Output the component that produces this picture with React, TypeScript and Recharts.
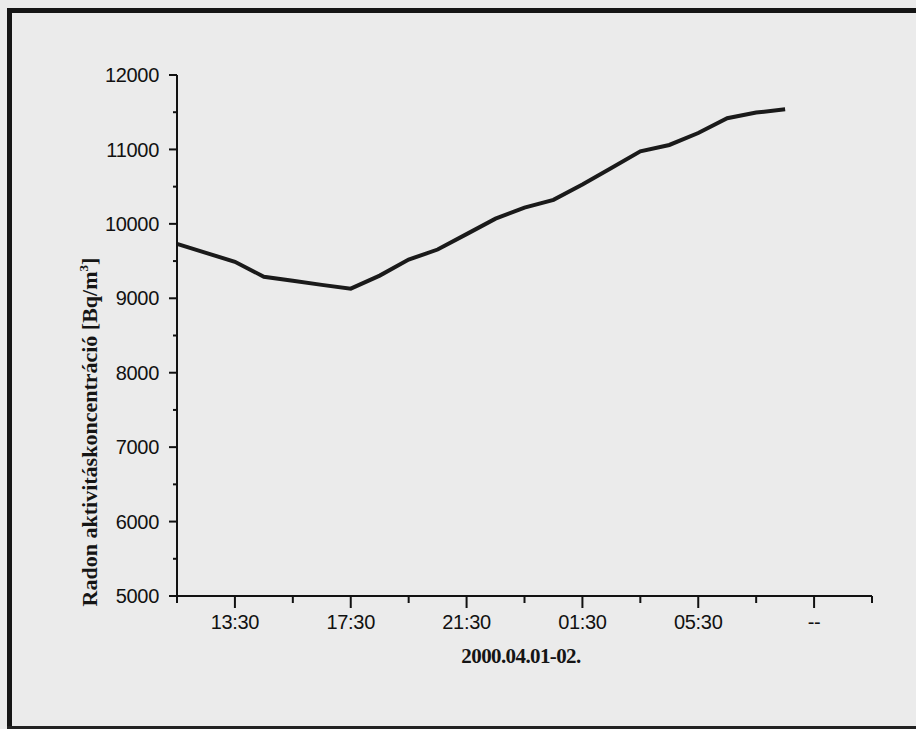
import React from "react";
import { LineChart, Line, XAxis, YAxis } from "recharts";

// hours after 11:30 on 2000.04.01
const hours = [0, 1, 2, 3, 4, 5, 6, 7, 8, 9, 10, 11, 12, 13, 14, 15, 16, 17, 18, 19, 20, 21];
const radon = [9730, 9610, 9490, 9290, 9235, 9180, 9130, 9305, 9520, 9655, 9862, 10070, 10218, 10323, 10530, 10750, 10975, 11060, 11220, 11420, 11495, 11540];

const xTicks = [0, 2, 4, 6, 8, 10, 12, 14, 16, 18, 20, 22, 24];
const xTickLabels: Record<number, string> = { 2: "13:30", 6: "17:30", 10: "21:30", 14: "01:30", 18: "05:30", 22: "--" };
const yTicks = [5000, 5500, 6000, 6500, 7000, 7500, 8000, 8500, 9000, 9500, 10000, 10500, 11000, 11500, 12000];

const data = hours.map((h, i) => ({ h, v: radon[i] }));

const W = 916;
const H = 729;
const PLOT_LEFT = 177;
const PLOT_RIGHT = 872;
const PLOT_TOP = 75;
const PLOT_BOTTOM = 596;
const Y_AXIS_W = 100;
const X_AXIS_H = 60;

const tickFont = "'Liberation Sans', Arial, sans-serif";
const titleFont = "'Liberation Serif', 'Times New Roman', serif";

const YTick = (props: any) => {
  const { y, payload } = props;
  const major = payload.value % 1000 === 0;
  return (
    <g>
      <line x1={PLOT_LEFT} x2={PLOT_LEFT - (major ? 8 : 4)} y1={y} y2={y} stroke="#111" strokeWidth={2} />
      {major && (
        <text x={PLOT_LEFT - 18} y={y} dy="0.36em" textAnchor="end" fontSize={20} fontFamily={tickFont} fill="#111" letterSpacing={-0.3}>
          {payload.value}
        </text>
      )}
    </g>
  );
};

const XTick = (props: any) => {
  const { x, payload } = props;
  const label = xTickLabels[payload.value];
  const major = label !== undefined;
  return (
    <g>
      <line x1={x} x2={x} y1={PLOT_BOTTOM} y2={PLOT_BOTTOM + (major ? 12 : 7)} stroke="#111" strokeWidth={2} />
      {major && (
        <text x={x} y={PLOT_BOTTOM + 33} textAnchor="middle" fontSize={20} fontFamily={tickFont} fill="#111" letterSpacing={-0.3}>
          {label}
        </text>
      )}
    </g>
  );
};

export default function App() {
  return (
    <div style={{ position: "absolute", left: 0, top: 0, width: W, height: H, background: "#ebebeb", overflow: "hidden" }}>
      <div style={{ position: "absolute", left: 7, top: 8, width: W - 7, height: 5, background: "#151515" }} />
      <div style={{ position: "absolute", left: 7, top: 8, width: 5, height: H - 8, background: "#151515" }} />
      <div style={{ position: "absolute", left: 7, top: H - 3, width: W - 7, height: 3, background: "#222" }} />
      <div style={{ position: "absolute", left: 0, top: 0 }}>
        <LineChart
          width={W}
          height={H}
          data={data}
          margin={{ left: PLOT_LEFT - Y_AXIS_W, right: W - PLOT_RIGHT, top: PLOT_TOP, bottom: H - PLOT_BOTTOM - X_AXIS_H }}
        >
          <XAxis
            dataKey="h"
            type="number"
            domain={[0, 24]}
            ticks={xTicks}
            interval={0}
            height={X_AXIS_H}
            axisLine={{ stroke: "#111", strokeWidth: 2 }}
            tickLine={false}
            tick={<XTick />}
          />
          <YAxis
            type="number"
            domain={[5000, 12000]}
            ticks={yTicks}
            interval={0}
            width={Y_AXIS_W}
            axisLine={{ stroke: "#111", strokeWidth: 2 }}
            tickLine={false}
            tick={<YTick />}
          />
          <Line
            dataKey="v"
            type="linear"
            stroke="#1a1a1a"
            strokeWidth={4}
            dot={false}
            isAnimationActive={false}
          />
        </LineChart>
        <svg width={W} height={H} style={{ position: "absolute", left: 0, top: 0, pointerEvents: "none" }}>
          <text
            transform="translate(97, 432) rotate(-90)"
            textAnchor="middle"
            fontSize={22}
            fontWeight="bold"
            fontFamily={titleFont}
            fill="#151515"
          >
            Radon aktivitáskoncentráció [Bq/m
            <tspan fontSize={13} dy={-9}>3</tspan>
            <tspan dy={9}>]</tspan>
          </text>
          <text x={521} y={663} textAnchor="middle" fontSize={21} fontWeight="bold" fontFamily={titleFont} fill="#151515" letterSpacing={-0.6}>
            2000.04.01-02.
          </text>
        </svg>
      </div>
    </div>
  );
}
